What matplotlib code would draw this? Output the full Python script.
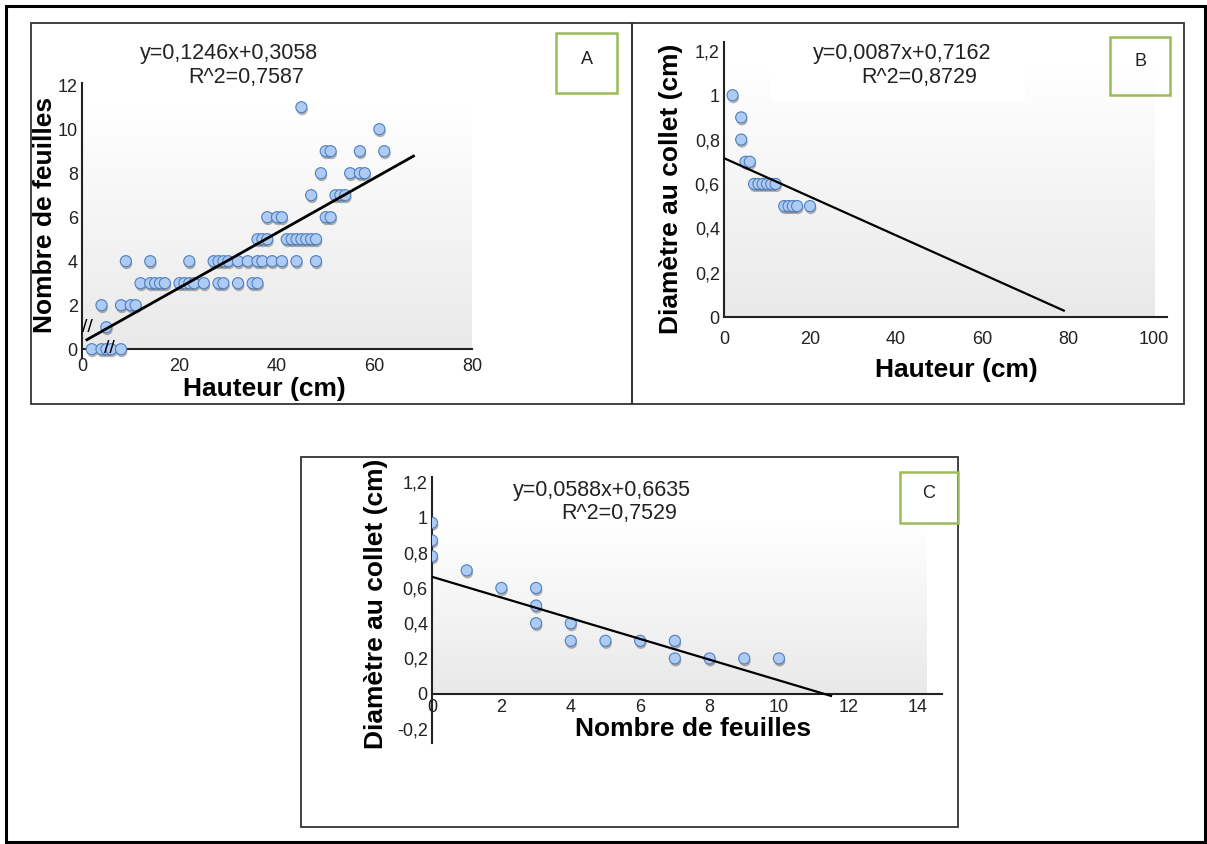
import numpy as np
import matplotlib
matplotlib.use('Agg')
import matplotlib.pyplot as plt
from matplotlib.patches import Rectangle
from matplotlib.colors import LinearSegmentedColormap
from matplotlib.ticker import FuncFormatter
import matplotlib.patheffects as pe

plt.rcParams['font.family'] = ['Liberation Sans', 'DejaVu Sans']

W, H = 1207, 844

# ---- A : hauteur / nombre de feuilles
hauteur_a = [2, 4, 5, 6, 8,
             5,
             4, 8, 10, 11,
             12, 14, 15, 16, 17, 20, 21, 22, 23, 25, 28, 29, 32, 35, 36,
             9, 14, 22, 27, 28, 29, 30, 32, 34, 36, 37, 39, 41, 44, 48,
             36, 37, 38, 42, 43, 44, 45, 46, 47, 48,
             38, 40, 41, 50, 51,
             47, 52, 53, 54,
             49, 55, 57, 58,
             50, 51, 57, 62,
             61,
             45]
feuilles_a = [0] * 5 + [1] + [2] * 4 + [3] * 15 + [4] * 15 + [5] * 10 + \
             [6] * 5 + [7] * 4 + [8] * 4 + [9] * 4 + [10] + [11]
fit_a = (0.1246, 0.3058)
fit_a_range = (1, 68)
eq_a = ['y=0,1246x+0,3058', 'R^2=0,7587']

# ---- B : hauteur / diametre
hauteur_b = [2, 4, 4, 5, 6, 7, 8, 9, 10, 11, 12, 14, 15, 16, 17, 20]
diametre_b = [1.0, 0.9, 0.8, 0.7, 0.7, 0.6, 0.6, 0.6, 0.6, 0.6, 0.6,
              0.5, 0.5, 0.5, 0.5, 0.5]
fit_b = (-0.0087, 0.7162)
fit_b_range = (0, 79)
eq_b = ['y=0,0087x+0,7162', 'R^2=0,8729']

# ---- C : nombre de feuilles / diametre
feuilles_c = [0, 0, 0, 1, 2, 3, 3, 3, 4, 4, 5, 6, 7, 7, 8, 9, 10]
diametre_c = [0.97, 0.87, 0.78, 0.7, 0.6, 0.6, 0.5, 0.4, 0.4, 0.3, 0.3,
              0.3, 0.3, 0.2, 0.2, 0.2, 0.2]
fit_c = (-0.0588, 0.6635)
fit_c_range = (0, 11.5)
eq_c = ['y=0,0588x+0,6635', 'R^2=0,7529']

fig = plt.figure(figsize=(W / 100, H / 100), dpi=100)
fig.patch.set_facecolor('white')

grad = LinearSegmentedColormap.from_list('g', ['#ffffff', '#e9e9e9'])


def px_axes(x0, y0, x1, y1):
    return fig.add_axes([x0 / W, 1 - y1 / H, (x1 - x0) / W, (y1 - y0) / H])


def px_rect(x0, y0, x1, y1, ec='#333333', lw=1.3, fc='none', z=5):
    r = Rectangle((x0 / W, 1 - y1 / H), (x1 - x0) / W, (y1 - y0) / H,
                  transform=fig.transFigure, fc=fc, ec=ec, lw=lw, zorder=z)
    fig.add_artist(r)


def px_text(x, y, s, **kw):
    fig.text(x / W, 1 - y / H, s, **kw)


def comma(v, pos):
    return ('%g' % round(v, 2)).replace('.', ',')


def panel(ax, x, y, fit, frange, xlim, ylim, bg, xticks, yticks):
    ax.set_facecolor('none')
    g = np.linspace(0, 1, 256).reshape(-1, 1)
    ax.imshow(g, cmap=grad, aspect='auto', extent=bg, zorder=0,
              interpolation='bicubic')
    sc = ax.scatter(x, y, s=64, c='#aecbf3', edgecolors='#4f7fc0',
                    linewidths=0.8, zorder=3)
    sc.set_path_effects([pe.SimplePatchShadow(offset=(0.6, -1.8),
                                              shadow_rgbFace='#444444',
                                              alpha=0.4), pe.Normal()])
    xx = np.array(frange)
    ax.plot(xx, fit[0] * xx + fit[1], color='black', lw=1.6, zorder=4)
    ax.set_xlim(*xlim)
    ax.set_ylim(*ylim)
    ax.set_xticks(xticks)
    ax.set_yticks(yticks)
    ax.xaxis.set_major_formatter(FuncFormatter(comma))
    ax.yaxis.set_major_formatter(FuncFormatter(comma))
    for s in ('top', 'right'):
        ax.spines[s].set_visible(False)
    for s in ('left', 'bottom'):
        ax.spines[s].set_color('#222222')
        ax.spines[s].set_linewidth(1.5)
    ax.spines['bottom'].set_position(('data', 0))
    ax.tick_params(length=0, labelsize=13, colors='#222222')
    ax.tick_params(axis='y', pad=3)


# outer frame and panel frames
px_rect(6, 6, 1205, 842, ec='black', lw=2.2)
px_rect(31, 23, 632, 404)
px_rect(632, 23, 1184, 404)
px_rect(301, 457, 958, 827)

# panel A
ax_a = px_axes(82, 83, 472, 358)
panel(ax_a, hauteur_a, feuilles_a, fit_a, fit_a_range, (0, 80), (-0.4, 12.1),
      [0, 80, 0, 11], [0, 20, 40, 60, 80], np.arange(0, 13, 2))
ax_a.lines[-1].set_linewidth(2.0)
ax_a.tick_params(axis='x', pad=6)
ax_a.text(1.2, 1.0, '//', fontsize=14, ha='center', va='center', zorder=5)
ax_a.text(5.6, 0.05, '//', fontsize=14, ha='center', va='center', zorder=5)
ax_a.set_xlabel('Hauteur (cm)', fontsize=19, fontweight='bold')
ax_a.set_ylabel('Nombre de feuilles', fontsize=19, fontweight='bold')
ax_a.xaxis.set_label_coords(264 / W, 1 - 389 / H, transform=fig.transFigure)
ax_a.yaxis.set_label_coords(45 / W, 1 - 215 / H, transform=fig.transFigure)

# panel B
ax_b = px_axes(724, 42, 1167, 317)
panel(ax_b, hauteur_b, diametre_b, fit_b, fit_b_range, (0, 103), (0, 1.24),
      [0, 100, 0, 1.12], np.arange(0, 101, 20), np.arange(0, 1.21, 0.2))
ax_b.tick_params(axis='x', pad=10)
ax_b.set_xlabel('Hauteur (cm)', fontsize=19, fontweight='bold')
ax_b.set_ylabel('Diamètre au collet (cm)', fontsize=19, fontweight='bold')
ax_b.xaxis.set_label_coords(956 / W, 1 - 370 / H, transform=fig.transFigure)
ax_b.yaxis.set_label_coords(671 / W, 1 - 189 / H, transform=fig.transFigure)

# panel C
ax_c = px_axes(432, 477, 942, 743)
panel(ax_c, feuilles_c, diametre_c, fit_c, fit_c_range, (0, 14.7),
      (-0.28, 1.23), [0, 14.25, 0, 0.98], np.arange(0, 15, 2),
      np.arange(-0.2, 1.21, 0.2))
ax_c.tick_params(axis='x', pad=4)
ax_c.set_xlabel('Nombre de feuilles', fontsize=19, fontweight='bold')
ax_c.set_ylabel('Diamètre au collet (cm)', fontsize=19, fontweight='bold')
ax_c.xaxis.set_label_coords(693 / W, 1 - 729 / H, transform=fig.transFigure)
ax_c.yaxis.set_label_coords(376 / W, 1 - 604 / H, transform=fig.transFigure)

for ax in (ax_a, ax_b, ax_c):
    ax.xaxis.label.set_va('center')
    ax.yaxis.label.set_va('center')

# white patches behind equations
px_rect(770, 66, 1025, 101, ec='none', lw=0, fc='white', z=1)
px_rect(464, 478, 710, 526, ec='none', lw=0, fc='white', z=1)

# equations
for (x1, y1, x2, y2), eq in zip([(140, 53, 188, 77), (813, 53, 861, 77),
                                 (513, 490, 561, 513)], [eq_a, eq_b, eq_c]):
    px_text(x1, y1, eq[0], fontsize=15.5, color='#222222', va='center', zorder=6)
    px_text(x2, y2, eq[1], fontsize=15.5, color='#222222', va='center', zorder=6)

# panel letters
for (x0, y0, x1, y1), lab in zip([(556, 33, 617, 93), (1110, 37, 1170, 95),
                                  (900, 472, 958, 523)], ['A', 'B', 'C']):
    px_rect(x0, y0, x1, y1, ec='#9bbb59', lw=1.8, z=6)
    px_text((x0 + x1) / 2, (y0 + y1) / 2 - 4, lab, fontsize=13, ha='center',
            va='center', color='#222222', zorder=7)

fig.savefig('out.png', dpi=100)
